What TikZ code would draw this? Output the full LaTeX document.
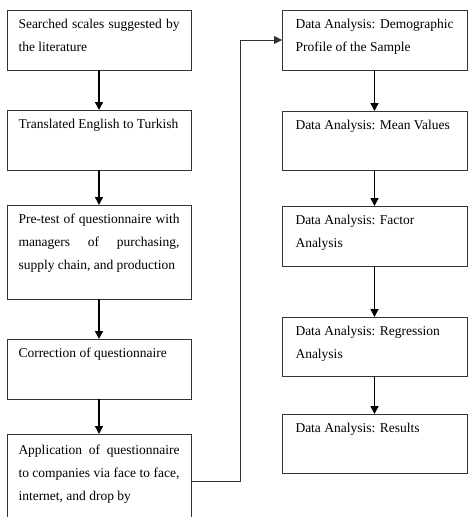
\documentclass[tikz,border=0pt]{standalone}
\usepackage{fontspec}
\setmainfont{Liberation Serif}
\usetikzlibrary{arrows.meta}
\tikzset{
  box/.style={draw=black!80, line width=1pt, anchor=north west, inner ysep=2pt, outer sep=0pt},
  lbox/.style={box, inner xsep=11.5pt},
  rbox/.style={box, inner xsep=13.5pt},
  arr/.style={draw=black, line width=1.4pt, -{Triangle[width=8pt,length=8pt]}},
  link/.style={draw=black!80, line width=1pt, -{Triangle[width=8pt,length=8pt]}}
}
\newcommand{\btext}[3]{\parbox[c][#1][t]{#2}{\fontsize{13.5}{23}\selectfont\strut #3}}
\newcommand{\jline}[1]{\makebox[\linewidth][s]{#1}}
\begin{document}
\begin{tikzpicture}[x=1pt,y=-1pt]
\useasboundingbox (0,0) rectangle (471,517);
% left column
\node[lbox] (b1) at (7,10) {\btext{56pt}{161pt}{\jline{Searched scales suggested by}\\the literature}};
\node[lbox] (b2) at (7,110) {\btext{56pt}{161pt}{Translated English to Turkish}};
\node[lbox] (b3) at (7,205) {\btext{90pt}{161pt}{\jline{Pre-test of questionnaire with}\\\jline{managers of purchasing,}\\supply chain, and production}};
\node[lbox] (b4) at (7,339) {\btext{56pt}{161pt}{Correction of questionnaire}};
\node[lbox, inner ysep=4pt] (b5) at (7,434) {\btext{86pt}{161pt}{\jline{Application of questionnaire}\\\jline{to companies via face to face,}\\internet, and drop by}};
% right column
\node[rbox] (b6) at (282,10) {\btext{56pt}{158pt}{\jline{Data Analysis: Demographic}\\Profile of the Sample}};
\node[rbox] (b7) at (282,111) {\btext{55pt}{158pt}{Data Analysis: Mean Values}};
\node[rbox] (b8) at (282,206) {\btext{56pt}{158pt}{Data Analysis: Factor\\Analysis}};
\node[rbox] (b9) at (282,317) {\btext{55pt}{158pt}{Data Analysis: Regression\\Analysis}};
\node[rbox] (b10) at (282,414) {\btext{55pt}{158pt}{Data Analysis: Results}};
% arrows
\draw[arr] (b1.south) -- (b2.north);
\draw[arr] (b2.south) -- (b3.north);
\draw[arr] (b3.south) -- (b4.north);
\draw[arr] (b4.south) -- (b5.north);
\draw[arr] (b6.south) -- (b7.north);
\draw[arr] (b7.south) -- (b8.north);
\draw[arr] (b8.south) -- (b9.north);
\draw[arr] (b9.south) -- (b10.north);
\coordinate (bend) at (240,0);
\draw[link] (b5.east) -- (b5.east -| bend) |- (b6.west);
\end{tikzpicture}
\end{document}
